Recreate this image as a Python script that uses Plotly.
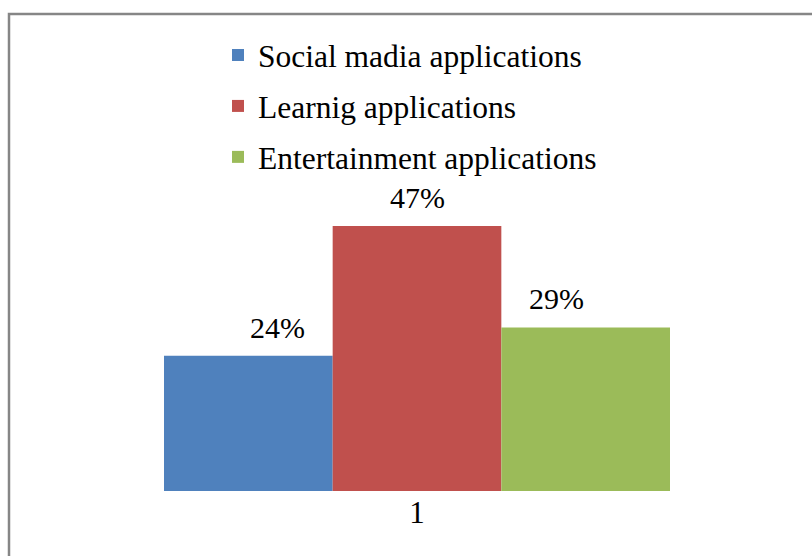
import plotly.graph_objects as go

# Share of application types (percent)
categories = ["1"]
series_names = ["Social madia applications", "Learnig applications", "Entertainment applications"]
series_values = [[24], [47], [29]]
series_colors = ["#4F81BD", "#C0504D", "#9BBB59"]

FONT = "Liberation Serif, Times New Roman, serif"

# Plot area in pixels (812 x 556 canvas)
W, H = 812, 556
PX0, PX1 = 90, 744
PY0, PY1 = 14, 491
pw, ph = PX1 - PX0, PY1 - PY0

def px_to_paper_x(x):
    return (x - PX0) / pw

def px_to_paper_y(y):
    return (PY1 - y) / ph

fig = go.Figure()
for i, (name, vals, color) in enumerate(zip(series_names, series_values, series_colors)):
    fig.add_trace(go.Bar(
        x=categories, y=vals, name=name,
        marker=dict(color=color, line=dict(width=0)),
        legendgroup=f"g{i}",
    ))

# Percentage labels above each bar
annotations = []
offsets = [-1, 0, 1]
group_frac = 506 / pw
for off, vals in zip(offsets, series_values):
    for v in vals:
        annotations.append(dict(
            x=0.5 + off * group_frac / 3, xref="paper",
            y=v, yref="y",
            text=f"{v}%", showarrow=False,
            yanchor="bottom", yshift=10,
            font=dict(family=FONT, size=30, color="black"),
        ))

fig.update_layout(
    width=W, height=H,
    margin=dict(l=PX0, r=W - PX1, t=PY0, b=H - PY1, pad=0),
    paper_bgcolor="white", plot_bgcolor="white",
    barmode="group", bargap=1 - group_frac, bargroupgap=0,
    font=dict(family=FONT, color="black"),
    xaxis=dict(showline=False, showgrid=False, zeroline=False, ticks="",
               tickfont=dict(family=FONT, size=31, color="black")),
    yaxis=dict(range=[0, ph / 5.64], visible=False, showgrid=False, zeroline=False),
    showlegend=True,
    legend=dict(
        x=px_to_paper_x(218), y=px_to_paper_y(28), xanchor="left", yanchor="top",
        traceorder="grouped", tracegroupgap=7,
        font=dict(family=FONT, size=31.5, color="black"),
        bgcolor="rgba(0,0,0,0)",
    ),
    annotations=annotations,
    shapes=[dict(
        type="rect", xref="paper", yref="paper",
        x0=px_to_paper_x(9), x1=px_to_paper_x(830),
        y0=px_to_paper_y(575), y1=px_to_paper_y(14),
        line=dict(color="#868686", width=2.5), fillcolor="rgba(0,0,0,0)",
        layer="below",
    )],
)

fig.write_html("out.html")
